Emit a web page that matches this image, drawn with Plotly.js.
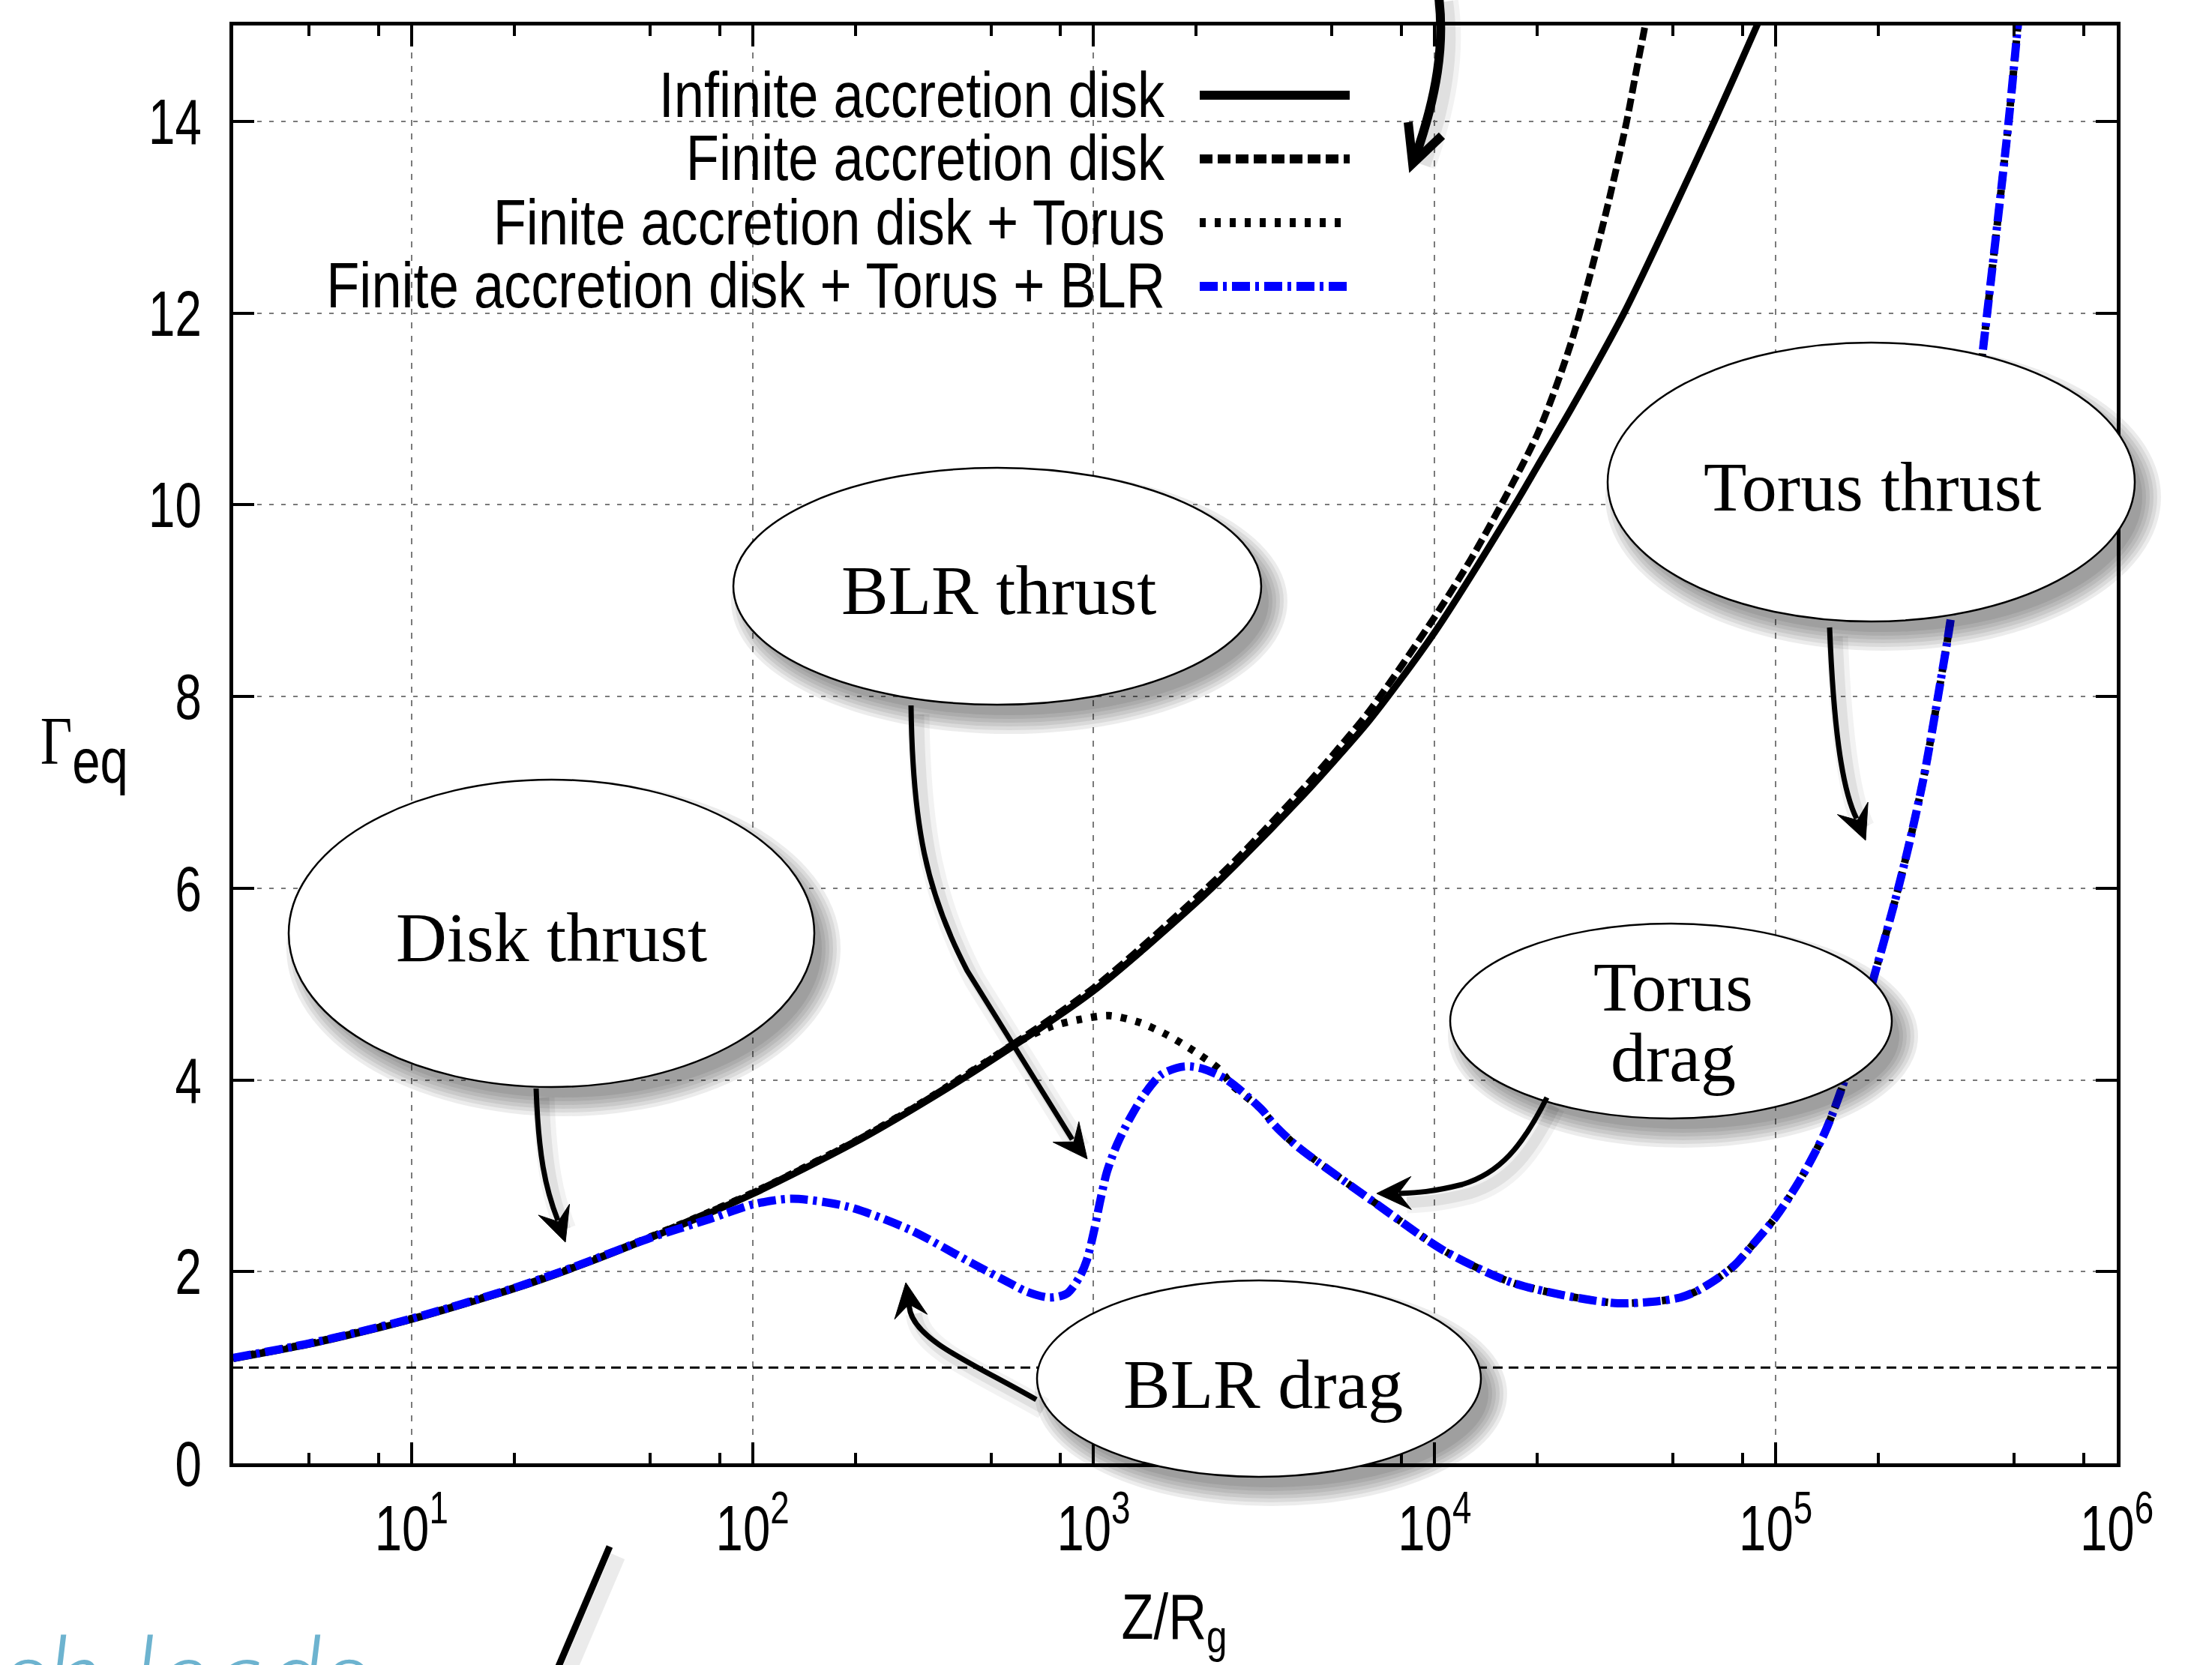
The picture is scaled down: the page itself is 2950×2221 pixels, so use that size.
<!DOCTYPE html>
<html>
<head>
<meta charset="utf-8">
<script src="https://cdn.plot.ly/plotly-3.0.1.min.js"></script>
<style>html,body{margin:0;padding:0;background:#fff;}#chart{width:2950px;height:2221px;}</style>
</head>
<body>
<div id="chart"></div>
<script>
// ---------------- data ----------------
const seriesNames = ["Infinite accretion disk", "Finite accretion disk", "Finite accretion disk + Torus", "Finite accretion disk + Torus + BLR"];

const xInf = [3,5,7,10,20,30,50,100,200,300,500,1000,2000,2620,4120,5000,6470,10000,17180,20000,25120,35890,50000,66070,88100,100000];
const yInf = [1.09,1.24,1.36,1.5,1.82,2.04,2.35,2.81,3.35,3.71,4.2,4.93,5.85,6.25,6.97,7.30,7.76,8.67,10.0,10.4,11.0,12.0,13.07,14.0,15.0,15.45];

const xFin = [3,5,7,10,20,30,50,100,200,300,500,1000,2000,2620,4120,5000,6470,10000,12760,15670,20090,25120,31550,36560,38640,41400,44000];
const yFin = [1.1,1.25,1.37,1.51,1.83,2.05,2.36,2.82,3.36,3.72,4.22,4.96,5.9,6.3,7.04,7.38,7.86,8.83,9.43,10.0,10.75,11.69,13.0,14.0,14.45,15.0,15.5];

const xTor = [3,5,7,10,20,30,50,100,200,300,500,575,741,908,1112,1361,1641,1972,2339,2540,3112,3388,3945,6790,10640,16710,25000,34500,44700,52500,58900,67600,75900,85100,100000,117500,139300,159200,195000,223400,247200,273500,302700,326600,358100,416900,481900,512900,537000];
const yTor = [1.1,1.25,1.37,1.51,1.83,2.05,2.36,2.82,3.36,3.72,4.22,4.36,4.55,4.63,4.67,4.60,4.47,4.30,4.11,3.95,3.69,3.53,3.31,2.70,2.22,1.89,1.74,1.67,1.69,1.73,1.80,1.93,2.07,2.27,2.57,2.95,3.45,4.0,5.1,5.86,6.49,7.21,8.11,8.83,10.0,12.0,14.0,15.0,15.7];

const xBlr = [3,5,7,10,20,30,50,75,100,130,189,288,439,575,637,741,834,908,955,1005,1047,1094,1169,1274,1409,1585,1845,2075,2460,3112,3388,3945,6790,10640,16710,25000,34500,44700,52500,58900,67600,75900,85100,100000,117500,139300,159200,195000,223400,247200,273500,302700,326600,358100,416900,481900,512900,537000];
const yBlr = [1.1,1.25,1.37,1.51,1.83,2.05,2.35,2.55,2.7,2.76,2.68,2.44,2.09,1.87,1.79,1.73,1.77,1.94,2.12,2.44,2.75,3.04,3.32,3.59,3.85,4.06,4.14,4.12,4.0,3.69,3.53,3.31,2.70,2.22,1.89,1.74,1.67,1.69,1.73,1.80,1.93,2.07,2.27,2.57,2.95,3.45,4.0,5.1,5.86,6.49,7.21,8.11,8.83,10.0,12.0,14.0,15.0,15.7];

const xRef = [3, 1000000];
const yRef = [1, 1];

const xTickVals = [10, 100, 1000, 10000, 100000, 1000000];
const xTickText = ["10<sup>1</sup>", "10<sup>2</sup>", "10<sup>3</sup>", "10<sup>4</sup>", "10<sup>5</sup>", "10<sup>6</sup>"];
const xMinorVals = [5,8,20,50,80,200,500,800,2000,5000,8000,20000,50000,80000,200000,500000,800000];
const yTickVals = [0,2,4,6,8,10,12,14];

const bubbleLabels = ["Disk thrust", "BLR thrust", "Torus thrust", "Torus", "drag", "BLR drag"];

// ---------------- styling ----------------
const SANS = "Liberation Sans, Arial, sans-serif";
const SERIF = "Liberation Serif, Times New Roman, serif";
const W = 2950, H = 2221;
const L0 = 311, R0 = 2823, T0 = 34, B0 = 1952;
const px = X => (X - L0) / (R0 - L0);
const py = Y => (B0 - Y) / (B0 - T0);
const P = (X, Y) => px(X).toFixed(5) + ',' + py(Y).toFixed(5);

const lineStyles = [
  {color: 'black', width: 9, dash: 'solid'},
  {color: 'black', width: 9, dash: '17px,7px'},
  {color: 'black', width: 10, dash: '8px,12px'},
  {color: '#0000ff', width: 11, dash: '24px,7px,5px,7px'}
];

const traces = [
  {x: xRef, y: yRef, mode: 'lines', line: {color: 'black', width: 3, dash: '13px,8px'}, showlegend: false, hoverinfo: 'skip'},
  {x: xInf, y: yInf, name: seriesNames[0], mode: 'lines', line: Object.assign({shape: 'spline', smoothing: 0.8}, lineStyles[0])},
  {x: xFin, y: yFin, name: seriesNames[1], mode: 'lines', line: Object.assign({shape: 'spline', smoothing: 0.8}, lineStyles[1])},
  {x: xTor, y: yTor, name: seriesNames[2], mode: 'lines', line: Object.assign({shape: 'spline', smoothing: 0.8}, lineStyles[2])},
  {x: xBlr, y: yBlr, name: seriesNames[3], mode: 'lines', line: Object.assign({shape: 'spline', smoothing: 0.8}, lineStyles[3])}
];

// ---------------- decorations (bubbles, arrows, manual legend) ----------------
const shapes = [];
const annotations = [];
const squeezeList = []; // [annotation index, factor, anchor]

function pathOf(segs) {
  return segs.map(s => typeof s === 'string' ? s : P(s[0], s[1])).join(' ');
}

// white legend background, drawn under the curves but over the grid
shapes.push({type: 'rect', xref: 'paper', yref: 'paper', layer: 'below',
  x0: px(400), x1: px(1840), y0: py(430), y1: py(88), fillcolor: 'white', line: {width: 0}});

// legend rows
const legendRows = [126, 210, 296, 380];
const legendLineRows = [127, 212, 297, 382];
seriesNames.forEach((nm, i) => {
  squeezeList.push([annotations.length, 0.84, 'right']);
  annotations.push({xref: 'paper', yref: 'paper', x: px(1556), y: py(legendRows[i]), xanchor: 'right', yanchor: 'middle',
    text: nm, showarrow: false, font: {family: SANS, size: 86, color: 'black'}});
  shapes.push({type: 'line', xref: 'paper', yref: 'paper', x0: px(1600), x1: px(i === 2 ? 1790 : 1800),
    y0: py(legendLineRows[i]), y1: py(legendLineRows[i]),
    line: {color: lineStyles[i].color, width: 12, dash: lineStyles[i].dash}});
});

// bubbles: [x0, x1, y0, y1] in page pixels
const bubbles = [
  [385, 1086, 1040, 1450],
  [978, 1682, 624, 940],
  [2144, 2847, 457, 829],
  [1934, 2523, 1232, 1492],
  [1383, 1975, 1708, 1970]
];
bubbles.forEach(b => {
  for (let k = 0; k < 6; k++) {
    const g = -6 + k * 5, dx = 16, dy = 20;
    shapes.push({type: 'circle', xref: 'paper', yref: 'paper', layer: 'above',
      x0: px(b[0] + dx - g), x1: px(b[1] + dx + g), y0: py(b[3] + dy + g), y1: py(b[2] + dy - g),
      fillcolor: 'rgba(0,0,0,0.075)', line: {width: 0}});
  }
  shapes.push({type: 'circle', xref: 'paper', yref: 'paper', layer: 'above',
    x0: px(b[0]), x1: px(b[1]), y0: py(b[3]), y1: py(b[2]),
    fillcolor: 'white', line: {color: 'black', width: 2.5}});
});

// bubble texts: [label index, x, y]
const bubbleText = [[0, 735, 1250], [1, 1332, 787], [2, 2497, 649], [3, 2231, 1316], [4, 2231, 1410], [5, 1684, 1846]];
bubbleText.forEach(t => {
  annotations.push({xref: 'paper', yref: 'paper', x: px(t[1]), y: py(t[2]), xanchor: 'center', yanchor: 'middle',
    text: bubbleLabels[t[0]], showarrow: false, font: {family: SERIF, size: 94, color: 'black'}});
});

// curved arrow bodies (page pixels)
const arrowBodies = [
  ['M', [715, 1452], 'C', [718, 1540], [727, 1585], [744, 1628]],
  ['M', [1215, 941], 'C', [1217, 1100], [1235, 1190], [1290, 1295], 'L', [1430, 1520]],
  ['M', [1382, 1867], 'C', [1300, 1820], [1225, 1790], [1214, 1750], 'L', [1212, 1740]],
  ['M', [2063, 1464], 'C', [2030, 1530], [2000, 1565], [1950, 1580], 'C', [1910, 1590], [1890, 1591], [1866, 1592]],
  ['M', [2440, 837], 'C', [2445, 960], [2455, 1050], [2476, 1092]],
  ['M', [1918, -10], 'C', [1928, 60], [1915, 130], [1888, 208]]
];
const arrowWidths = [7, 7, 7, 7, 7, 12];
arrowBodies.forEach((a, i) => {
  const sh = a.map(s => typeof s === 'string' ? s : [s[0] + 10, s[1] + 12]);
  shapes.push({type: 'path', xref: 'paper', yref: 'paper', layer: 'above', path: pathOf(sh),
    line: {color: 'rgba(0,0,0,0.05)', width: arrowWidths[i] + 22}});
  shapes.push({type: 'path', xref: 'paper', yref: 'paper', layer: 'above', path: pathOf(sh),
    line: {color: 'rgba(0,0,0,0.07)', width: arrowWidths[i] + 8}});
});
arrowBodies.forEach((a, i) => {
  shapes.push({type: 'path', xref: 'paper', yref: 'paper', layer: 'above', path: pathOf(a),
    line: {color: 'black', width: arrowWidths[i]}});
});
// chevron head of the top arrow
shapes.push({type: 'path', xref: 'paper', yref: 'paper', layer: 'above',
  path: pathOf(['M', [1878, 163], 'L', [1884, 218], 'L', [1923, 181]]), line: {color: 'black', width: 12}});

// stealth arrowheads: [tipX, tipY, dirX, dirY]
const heads = [
  [754, 1657, 13, 37],
  [1450, 1546, 26, 33],
  [1208, 1711, -6, -40],
  [1836, 1592, -40, 0.5],
  [2488, 1121, 14.5, 36]
];
heads.forEach(h => {
  const n = Math.hypot(h[2], h[3]);
  const dx = h[2] / n, dy = h[3] / n, nx = -dy, ny = dx;
  const Lh = 46, wd = 22, notch = 17;
  const T = [h[0], h[1]];
  const A = [h[0] - Lh * dx + wd * nx, h[1] - Lh * dy + wd * ny];
  const Bp = [h[0] - (Lh - notch) * dx, h[1] - (Lh - notch) * dy];
  const C = [h[0] - Lh * dx - wd * nx, h[1] - Lh * dy - wd * ny];
  shapes.push({type: 'path', xref: 'paper', yref: 'paper', layer: 'above',
    path: pathOf(['M', T, 'L', A, 'L', Bp, 'L', C, 'Z']), fillcolor: 'black', line: {color: 'black', width: 1}});
});

// slanted line at bottom left (slide fragment)
shapes.push({type: 'path', xref: 'paper', yref: 'paper', layer: 'above',
  path: pathOf(['M', [824, 2076], 'L', [754, 2240]]), line: {color: 'rgba(0,0,0,0.08)', width: 20}});
shapes.push({type: 'path', xref: 'paper', yref: 'paper', layer: 'above',
  path: pathOf(['M', [813, 2063], 'L', [741, 2232]]), line: {color: 'black', width: 9}});

// axis titles
squeezeList.push([annotations.length, 0.8, 'center']);
annotations.push({xref: 'paper', yref: 'paper', x: px(112), y: py(1000), xanchor: 'center', yanchor: 'middle',
  text: '<span style="font-family:Liberation Serif;font-size:92px">Γ</span><sub>eq</sub>', showarrow: false,
  font: {family: SANS, size: 120, color: 'black'}});
squeezeList.push([annotations.length, 0.82, 'center']);
annotations.push({xref: 'paper', yref: 'paper', x: px(1566), y: py(2162), xanchor: 'center', yanchor: 'middle',
  text: 'Z/R<sub>g</sub>', showarrow: false, font: {family: SANS, size: 86, color: 'black'}});
// slide fragment text
annotations.push({xref: 'paper', yref: 'paper', x: px(492), y: py(2140), xanchor: 'right', yanchor: 'top',
  text: 'sh leads', showarrow: false, font: {family: 'Lato, Open Sans, sans-serif', size: 150, style: 'italic', weight: 300, color: 'rgb(109,179,207)'}});

const layout = {
  width: W, height: H, autosize: false,
  margin: {l: L0, r: W - R0, t: T0, b: H - B0, pad: 0},
  paper_bgcolor: 'white', plot_bgcolor: 'white',
  showlegend: false,
  font: {family: SANS, size: 86, color: 'black'},
  xaxis: {
    type: 'log', range: [Math.log10(3), 6],
    tickmode: 'array', tickvals: xTickVals, ticktext: xTickText,
    ticks: 'inside', ticklen: 28, tickwidth: 4, tickcolor: 'black',
    showline: true, linewidth: 5, linecolor: 'black', mirror: 'ticks',
    showgrid: true, gridcolor: '#7a7a7a', gridwidth: 2, griddash: '8px,10px',
    zeroline: false, ticklabelstandoff: 8,
    tickfont: {family: SANS, size: 86, color: 'black'},
    minor: {tickmode: 'array', tickvals: xMinorVals, ticks: 'inside', ticklen: 14, tickwidth: 4, tickcolor: 'black', showgrid: false}
  },
  yaxis: {
    range: [0, 15], tickmode: 'array', tickvals: yTickVals,
    ticks: 'inside', ticklen: 28, tickwidth: 4, tickcolor: 'black',
    showline: true, linewidth: 5, linecolor: 'black', mirror: 'ticks',
    showgrid: true, gridcolor: '#7a7a7a', gridwidth: 2, griddash: '6px,10px',
    zeroline: false, ticklabelstandoff: 20,
    tickfont: {family: SANS, size: 86, color: 'black'}
  },
  shapes: shapes,
  annotations: annotations
};

// horizontally condense a text element about its right edge or centre
// (the reference uses a narrow sans face), via an SVG transform
function squeeze(el, f, anchor) {
  if (!el) return;
  const b = el.getBBox();
  if (!b.width) return;
  const ax = anchor === 'right' ? b.x + b.width : (anchor === 'left' ? b.x : b.x + b.width / 2);
  const old = el.getAttribute('transform') || '';
  el.setAttribute('transform', (old + ' translate(' + ax.toFixed(2) + ',0) scale(' + f + ',1) translate(' + (-ax).toFixed(2) + ',0)').trim());
}

Plotly.newPlot('chart', traces, layout, {staticPlot: true, displayModeBar: false}).then(gd => {
  gd.querySelectorAll('.ytick text').forEach(el => squeeze(el, 0.74, 'right'));
  gd.querySelectorAll('.xtick text').forEach(el => squeeze(el, 0.76, 'center'));
  squeezeList.forEach(s => {
    const el = gd.querySelector('.annotation[data-index="' + s[0] + '"] text.annotation-text');
    squeeze(el, s[1], s[2]);
  });
});
</script>
</body>
</html>
